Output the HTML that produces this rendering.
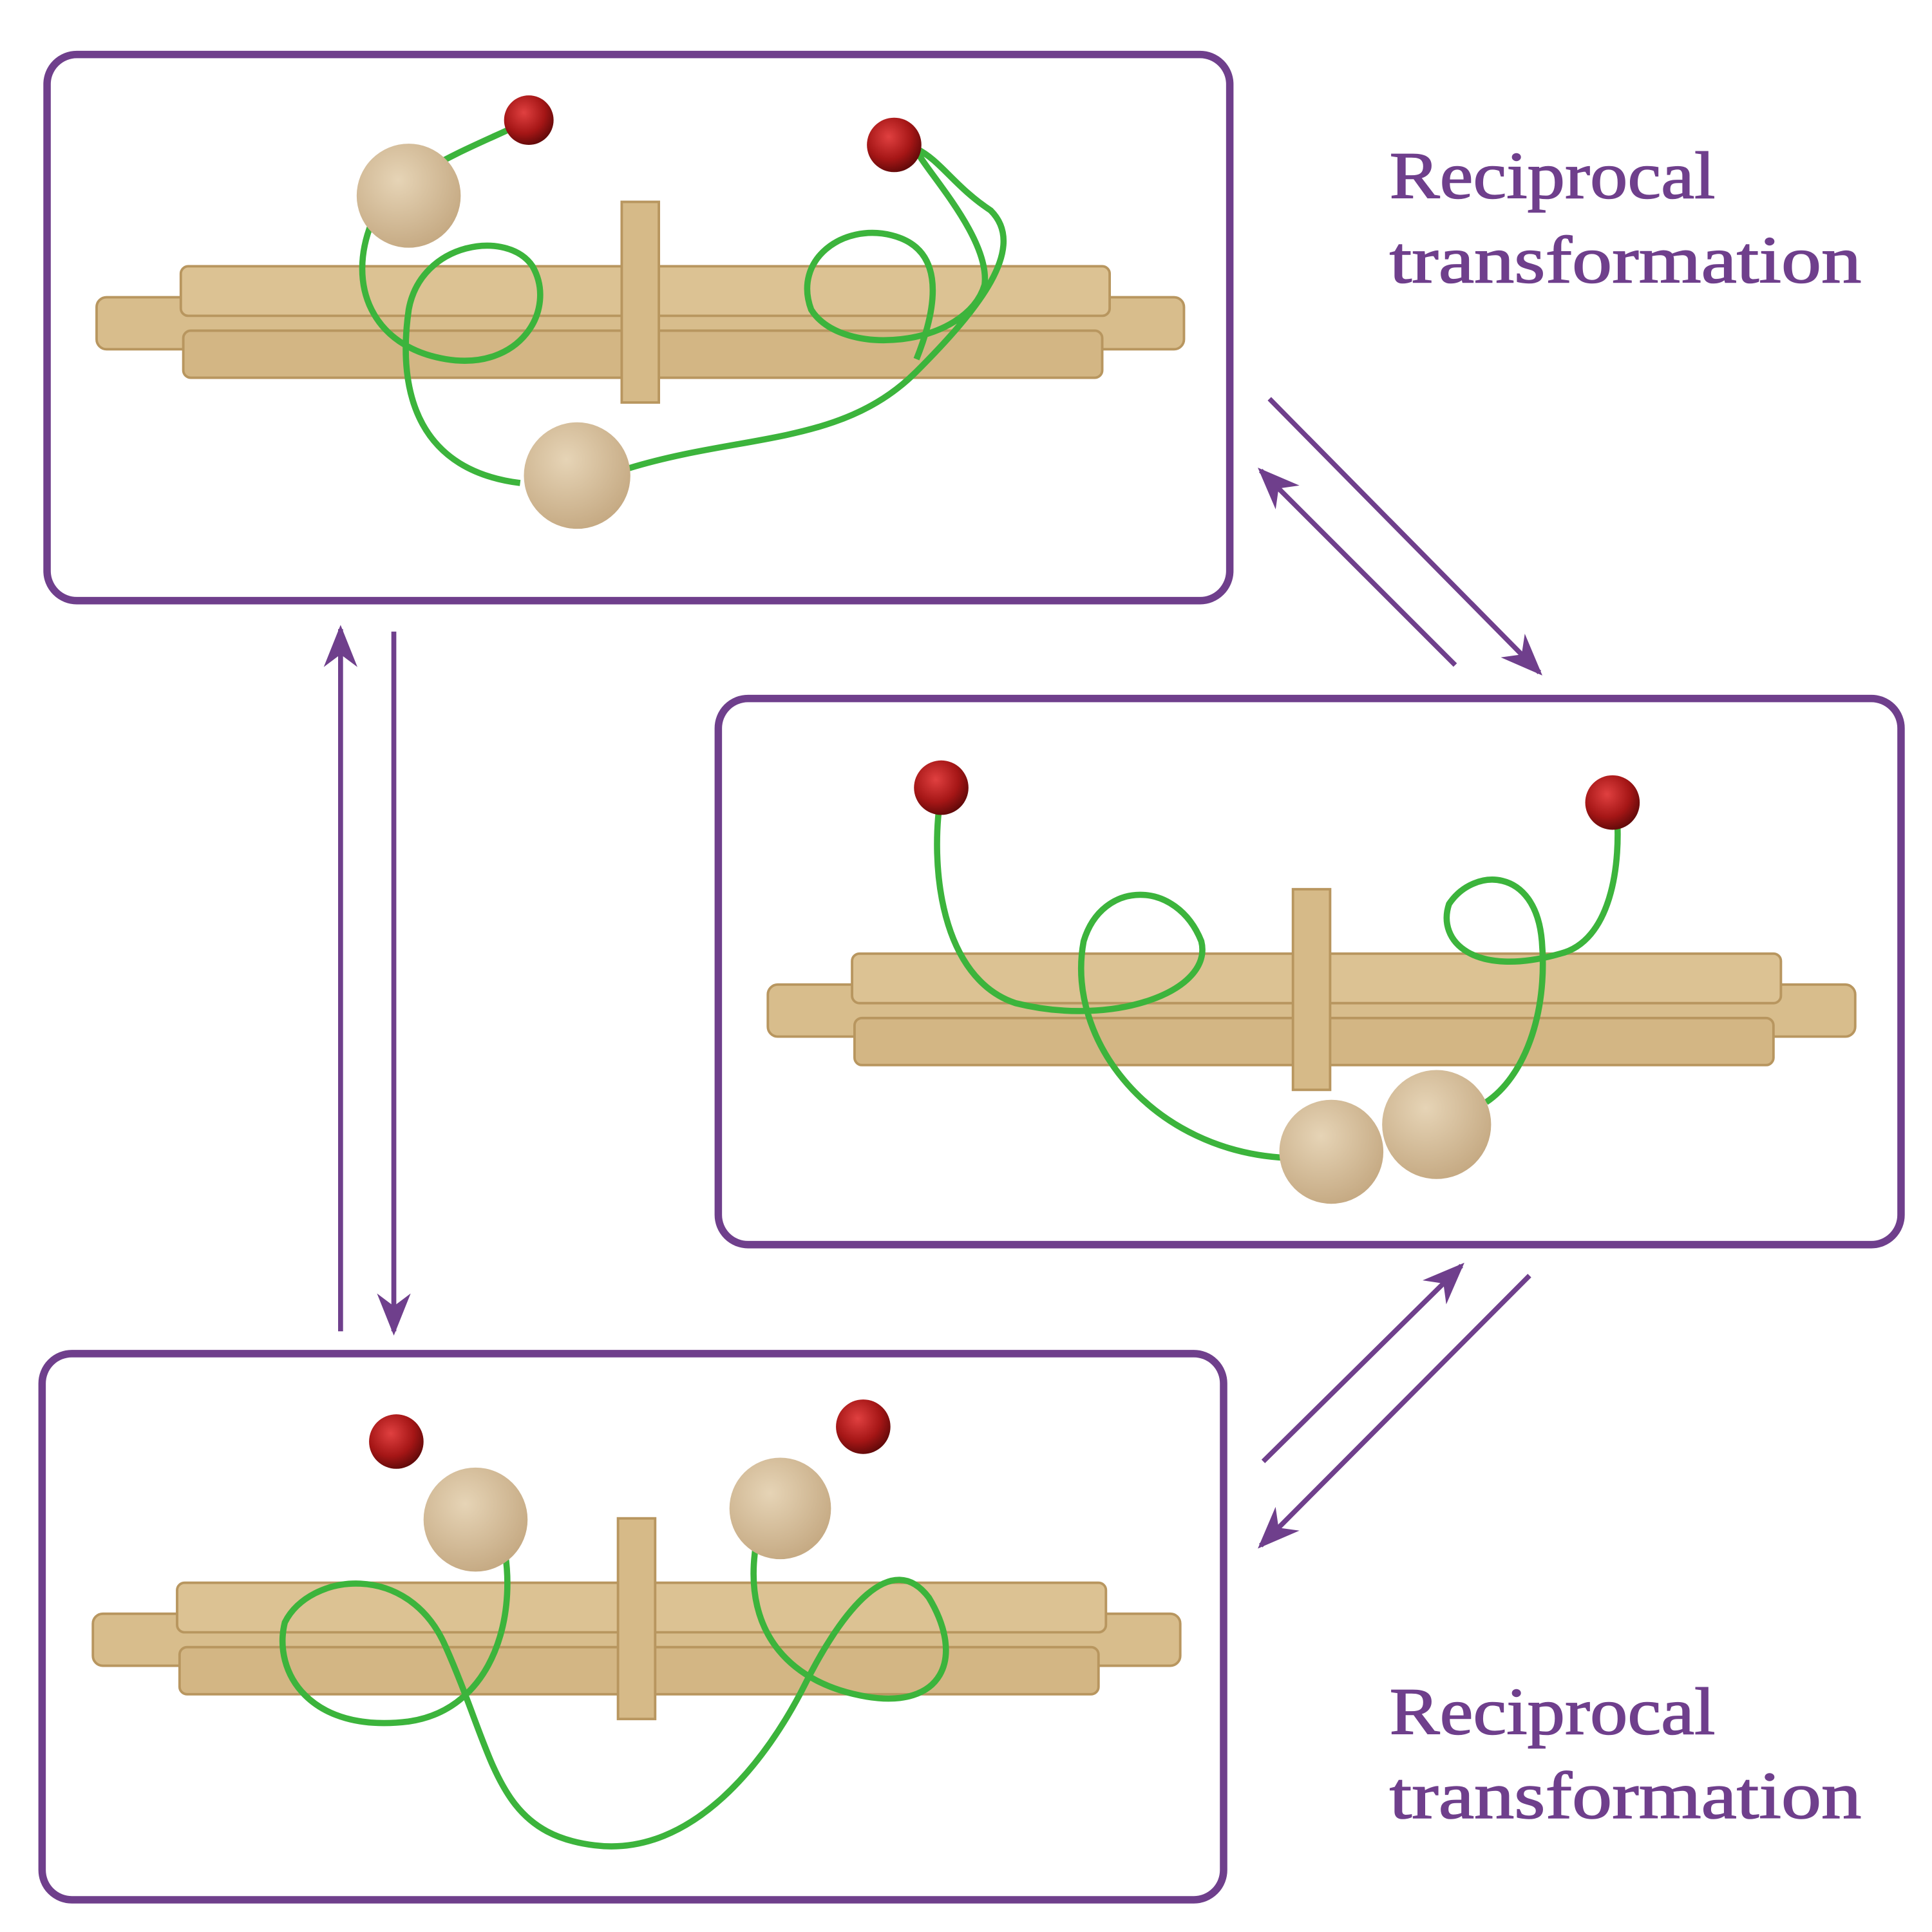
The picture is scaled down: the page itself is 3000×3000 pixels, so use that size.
<!DOCTYPE html>
<html><head><meta charset="utf-8"><style>
html,body{margin:0;padding:0;background:#fff;}
svg{display:block}
text{font-family:"Liberation Serif",serif;fill:#6f3f8c;stroke:#6f3f8c;stroke-width:0.8px;font-size:54px;}
</style></head><body>
<svg width="3000" height="3000" viewBox="0 0 1560 1560" xmlns="http://www.w3.org/2000/svg">
<defs>
<marker id="ah2" viewBox="0 0 20 20" refX="18" refY="10" markerWidth="34" markerHeight="34" orient="auto" markerUnits="userSpaceOnUse">
<path d="M0,2 L20,10 L0,18 L6,10 Z" fill="#6f3f8c"/></marker>
<radialGradient id="wood" cx="0.4" cy="0.35" r="0.7"><stop offset="0" stop-color="#e6d4b6"/><stop offset="1" stop-color="#c4a881"/></radialGradient>
<radialGradient id="red" cx="0.4" cy="0.35" r="0.7"><stop offset="0" stop-color="#e04040"/><stop offset="0.6" stop-color="#a51616"/><stop offset="1" stop-color="#5a0808"/></radialGradient>
<g id="sticks">
<rect x="0" y="25" width="878" height="42" rx="8" fill="#d8bd8c" stroke="#b8965f" stroke-width="2"/>
<rect x="70" y="52" width="742" height="38" rx="6" fill="#d3b684" stroke="#b8965f" stroke-width="2"/>
<rect x="68" y="0" width="750" height="40" rx="6" fill="#dcc293" stroke="#b8965f" stroke-width="2"/>
<rect x="424" y="-52" width="30" height="162" fill="#d6ba88" stroke="#b8965f" stroke-width="2"/>
</g>
</defs>
<g fill="none" stroke="#6f3f8c" stroke-width="6">
<rect x="38" y="44" width="955" height="441" rx="24"/>
<rect x="580" y="564" width="955" height="441" rx="24"/>
<rect x="34" y="1093" width="954" height="441" rx="24"/>
</g>
<text x="1122" y="160" textLength="263" lengthAdjust="spacingAndGlyphs">Reciprocal</text>
<text x="1122" y="228" textLength="381" lengthAdjust="spacingAndGlyphs">transformation</text>
<text x="1122" y="1400" textLength="263" lengthAdjust="spacingAndGlyphs">Reciprocal</text>
<text x="1122" y="1468" textLength="381" lengthAdjust="spacingAndGlyphs">transformation</text>
<g stroke="#6f3f8c" stroke-width="4" fill="none">
<line x1="275" y1="1075" x2="275" y2="508" marker-end="url(#ah2)"/>
<line x1="318" y1="510" x2="318" y2="1075" marker-end="url(#ah2)"/>
<line x1="1025" y1="322" x2="1243" y2="543" marker-end="url(#ah2)"/>
<line x1="1175" y1="537" x2="1018" y2="380" marker-end="url(#ah2)"/>
<line x1="1020" y1="1180" x2="1180" y2="1022" marker-end="url(#ah2)"/>
<line x1="1235" y1="1030" x2="1018" y2="1248" marker-end="url(#ah2)"/>
</g>
<use href="#sticks" transform="translate(78,215)"/>
<g fill="none" stroke="#3cb43c" stroke-width="5">
<path d="M427,97 C380,120 320,140 300,180 C280,230 300,280 360,290 C420,300 450,250 430,215 C410,185 340,195 330,250 C320,320 340,380 420,390"/>
<path d="M508,378 C600,350 680,360 740,300 C790,250 830,200 800,170 C770,150 760,130 740,120 M740,120 C740,130 800,190 795,230 C780,280 680,290 655,250 C640,210 680,180 720,190 C760,200 760,240 740,290"/>
</g>
<circle cx="330" cy="158" r="42" fill="url(#wood)"/>
<circle cx="466" cy="384" r="43" fill="url(#wood)"/>
<circle cx="427" cy="97" r="20" fill="url(#red)"/>
<circle cx="722" cy="117" r="22" fill="url(#red)"/>
<use href="#sticks" transform="translate(620,770)"/>
<g fill="none" stroke="#3cb43c" stroke-width="5">
<path d="M760,640 C750,700 760,790 820,810 C900,830 980,800 970,760 C950,710 890,710 875,760 C860,840 930,930 1040,935"/>
<path d="M1305,650 C1310,700 1300,760 1260,770 C1190,790 1160,760 1170,730 C1190,700 1240,700 1245,760 C1250,820 1230,870 1200,890"/>
</g>
<circle cx="1075" cy="930" r="42" fill="url(#wood)"/>
<circle cx="1160" cy="908" r="44" fill="url(#wood)"/>
<circle cx="760" cy="636" r="22" fill="url(#red)"/>
<circle cx="1302" cy="648" r="22" fill="url(#red)"/>
<use href="#sticks" transform="translate(75,1278)"/>
<g fill="none" stroke="#3cb43c" stroke-width="5">
<path d="M405,1240 C420,1300 400,1380 330,1390 C250,1400 220,1350 230,1310 C250,1270 330,1260 360,1330 C400,1420 400,1480 480,1490 C560,1500 620,1420 650,1360 C680,1300 720,1250 750,1290 C780,1340 760,1380 700,1370 C640,1360 600,1320 610,1250"/>
</g>
<circle cx="384" cy="1227" r="42" fill="url(#wood)"/>
<circle cx="630" cy="1218" r="41" fill="url(#wood)"/>
<circle cx="320" cy="1164" r="22" fill="url(#red)"/>
<circle cx="697" cy="1152" r="22" fill="url(#red)"/>
</svg>
</body></html>
